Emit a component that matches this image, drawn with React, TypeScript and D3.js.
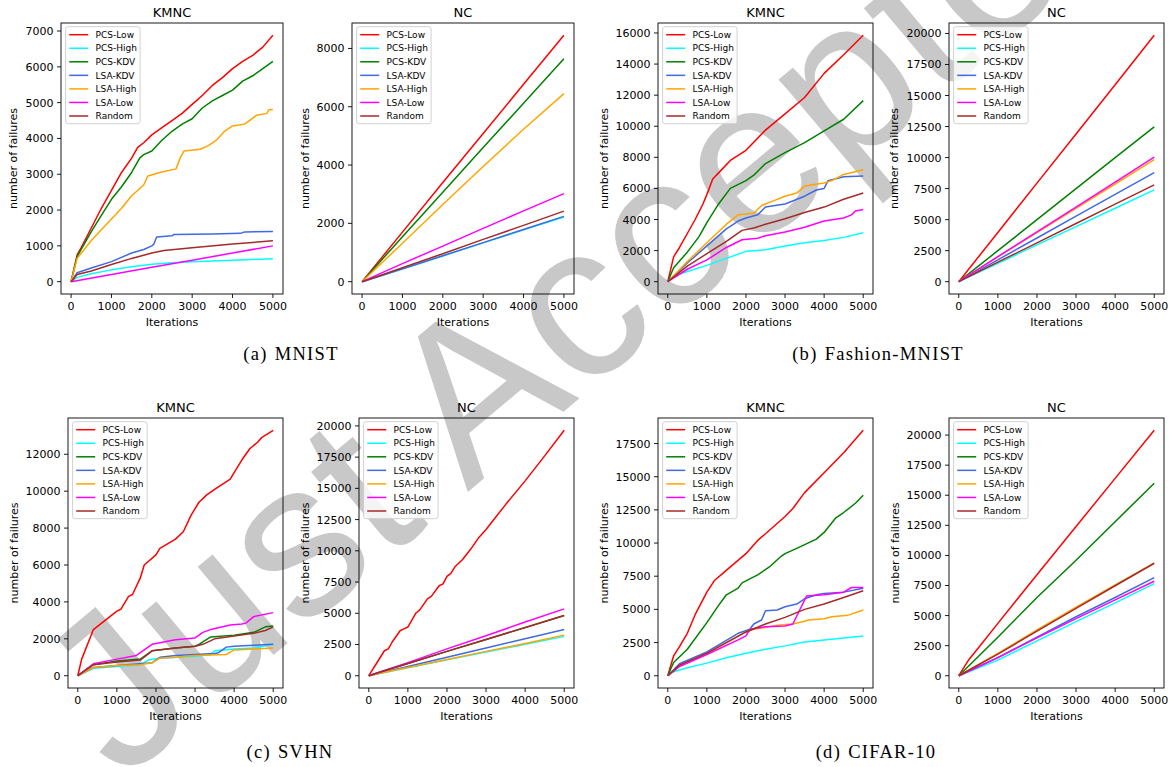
import React from 'react';
import * as d3 from 'd3';

type Pt = [number, number];

const seriesNames = ['PCS-Low', 'PCS-High', 'PCS-KDV', 'LSA-KDV', 'LSA-High', 'LSA-Low', 'Random'];
const seriesColors = ['#ff0000', '#00ffff', '#008000', '#4169e1', '#ffa500', '#ff00ff', '#a52a2a'];
const xTicks = [0, 1000, 2000, 3000, 4000, 5000];

// (a) MNIST, KMNC — order follows seriesNames
const mnistKmnc: Pt[][] = [
  [[0, 0], [150, 750], [250, 950], [500, 1500], [750, 2050], [1000, 2550], [1250, 3050], [1500, 3450], [1650, 3750], [1800, 3880], [2000, 4100], [2250, 4300], [2500, 4500], [2750, 4700], [3000, 4950], [3250, 5200], [3500, 5480], [3750, 5700], [4000, 5950], [4250, 6150], [4500, 6320], [4750, 6550], [5000, 6880]],
  [[0, 0], [150, 120], [500, 220], [1000, 330], [1500, 420], [2000, 490], [2500, 530], [3000, 560], [3500, 580], [4000, 600], [4500, 620], [5000, 640]],
  [[0, 0], [150, 700], [250, 900], [500, 1400], [750, 1850], [1000, 2300], [1250, 2650], [1500, 3050], [1700, 3450], [1800, 3550], [2000, 3650], [2250, 3950], [2500, 4200], [2750, 4400], [3000, 4550], [3250, 4850], [3500, 5050], [3750, 5200], [4000, 5350], [4250, 5600], [4500, 5750], [4750, 5950], [5000, 6150]],
  [[0, 0], [150, 250], [500, 380], [1000, 560], [1500, 800], [1800, 900], [2000, 1000], [2050, 1050], [2120, 1250], [2500, 1280], [2550, 1320], [3500, 1330], [4200, 1350], [4300, 1390], [5000, 1400]],
  [[0, 0], [150, 650], [500, 1150], [1000, 1750], [1250, 2050], [1500, 2400], [1800, 2700], [1900, 2950], [2200, 3050], [2600, 3150], [2700, 3450], [2800, 3650], [3200, 3700], [3400, 3800], [3600, 3950], [3800, 4200], [4000, 4350], [4300, 4400], [4600, 4650], [4850, 4700], [4900, 4800], [5000, 4810]],
  [[0, 0], [1000, 200], [2000, 400], [3000, 600], [4000, 800], [5000, 1000]],
  [[0, 0], [150, 200], [500, 300], [1000, 480], [1500, 650], [2000, 800], [2300, 870], [3000, 950], [4000, 1050], [5000, 1140]],
];

// (a) MNIST, NC
const mnistNc: Pt[][] = [
  [[0, 0], [1000, 1700], [2000, 3400], [3000, 5080], [4000, 6770], [5000, 8450]],
  [[0, 0], [1000, 430], [2000, 880], [3000, 1330], [4000, 1780], [5000, 2220]],
  [[0, 0], [1000, 1540], [2000, 3070], [3000, 4600], [4000, 6120], [5000, 7650]],
  [[0, 0], [1000, 440], [2000, 890], [3000, 1340], [4000, 1790], [5000, 2240]],
  [[0, 0], [1000, 1320], [2000, 2650], [3000, 3950], [4000, 5230], [5000, 6450]],
  [[0, 0], [1000, 620], [2000, 1220], [3000, 1830], [4000, 2430], [5000, 3020]],
  [[0, 0], [1000, 480], [2000, 960], [3000, 1450], [4000, 1930], [5000, 2420]],
];

// (b) Fashion-MNIST, KMNC
const fashionKmnc: Pt[][] = [
  [[0, 0], [150, 1600], [300, 2200], [500, 3100], [700, 4000], [900, 5000], [1000, 5600], [1150, 6600], [1300, 7000], [1600, 7800], [2000, 8450], [2500, 9750], [3000, 10800], [3500, 11850], [4000, 13400], [4500, 14600], [5000, 15850]],
  [[0, 0], [150, 350], [500, 650], [1000, 1050], [1500, 1500], [2000, 1950], [2500, 2050], [3000, 2300], [3500, 2500], [4000, 2650], [4500, 2850], [5000, 3150]],
  [[0, 0], [150, 900], [500, 1900], [800, 2900], [1000, 3800], [1300, 5000], [1600, 6000], [2000, 6500], [2200, 6850], [2500, 7600], [3000, 8300], [3500, 8950], [4000, 9700], [4500, 10450], [5000, 11650]],
  [[0, 0], [500, 1200], [1000, 2300], [1500, 3400], [1800, 3900], [2000, 4100], [2300, 4300], [2500, 4800], [3000, 5000], [3500, 5500], [3800, 5900], [4000, 6000], [4100, 6500], [4500, 6750], [5000, 6800]],
  [[0, 0], [500, 1300], [1000, 2500], [1500, 3700], [1800, 4300], [2200, 4400], [2400, 4900], [2700, 5200], [3000, 5500], [3300, 5700], [3500, 6150], [4000, 6350], [4200, 6500], [4500, 6900], [5000, 7200]],
  [[0, 0], [500, 800], [1000, 1400], [1500, 2200], [1900, 2700], [2300, 2800], [2500, 2950], [3000, 3200], [3500, 3500], [4000, 3900], [4500, 4100], [4700, 4300], [4800, 4550], [5000, 4650]],
  [[0, 0], [500, 1000], [1000, 1800], [1500, 2600], [1900, 3300], [2200, 3450], [2500, 3700], [3000, 4050], [3500, 4450], [4000, 4800], [4500, 5300], [5000, 5700]],
];

// (b) Fashion-MNIST, NC
const fashionNc: Pt[][] = [
  [[0, 0], [1000, 3970], [2000, 7940], [3000, 11900], [4000, 15870], [5000, 19850]],
  [[0, 0], [1000, 1480], [2000, 2960], [3000, 4440], [4000, 5920], [5000, 7400]],
  [[0, 0], [1000, 2500], [2000, 5000], [3000, 7500], [4000, 10000], [5000, 12480]],
  [[0, 0], [1000, 1760], [2000, 3520], [3000, 5280], [4000, 7040], [5000, 8780]],
  [[0, 0], [1000, 2000], [2000, 3950], [3000, 5900], [4000, 7870], [5000, 9830]],
  [[0, 0], [1000, 2020], [2000, 4010], [3000, 6010], [4000, 8020], [5000, 10030]],
  [[0, 0], [1000, 1570], [2000, 3130], [3000, 4690], [4000, 6250], [5000, 7800]],
];

// (c) SVHN, KMNC
const svhnKmnc: Pt[][] = [
  [[0, 0], [100, 900], [400, 2500], [700, 3000], [1000, 3500], [1100, 3600], [1300, 4300], [1400, 4400], [1600, 5300], [1700, 6000], [2000, 6550], [2100, 6900], [2500, 7400], [2700, 7800], [2900, 8700], [3100, 9400], [3300, 9800], [3500, 10100], [3900, 10650], [4000, 11000], [4200, 11700], [4400, 12300], [4600, 12650], [4700, 12900], [5000, 13300]],
  [[0, 0], [400, 400], [1000, 500], [1600, 600], [1800, 850], [2100, 950], [3000, 1050], [3400, 1150], [3500, 1350], [4000, 1450], [4500, 1500], [5000, 1700]],
  [[0, 0], [400, 600], [1000, 800], [1600, 900], [1900, 1350], [2500, 1500], [3000, 1600], [3100, 1700], [3400, 2100], [4000, 2200], [4500, 2350], [4800, 2650], [5000, 2700]],
  [[0, 0], [400, 450], [1000, 550], [1600, 650], [1900, 700], [2100, 1000], [2500, 1100], [3000, 1150], [3500, 1200], [3600, 1250], [3800, 1550], [4000, 1600], [4500, 1650], [5000, 1700]],
  [[0, 0], [400, 450], [1000, 550], [1600, 600], [1900, 700], [2100, 950], [2500, 1000], [3000, 1100], [3800, 1150], [4000, 1400], [4500, 1450], [5000, 1500]],
  [[0, 0], [400, 650], [1000, 900], [1500, 1100], [1700, 1400], [1900, 1700], [2500, 1950], [3000, 2050], [3200, 2350], [3400, 2500], [3900, 2750], [4200, 2800], [4300, 2850], [4500, 3200], [5000, 3420]],
  [[0, 0], [400, 600], [1000, 750], [1600, 850], [1900, 1350], [2500, 1500], [3000, 1600], [3200, 1700], [3500, 2000], [4000, 2150], [4500, 2300], [4800, 2450], [5000, 2650]],
];

// (c) SVHN, NC
const svhnNc: Pt[][] = [
  [[0, 0], [200, 1000], [400, 2000], [500, 2150], [600, 2700], [800, 3600], [900, 3750], [1000, 3900], [1200, 5000], [1300, 5250], [1500, 6150], [1600, 6350], [1800, 7200], [1900, 7350], [2000, 7950], [2100, 8200], [2200, 8700], [2400, 9300], [2600, 10100], [2800, 11000], [3000, 11700], [3200, 12500], [3500, 13700], [4000, 15600], [4500, 17600], [5000, 19650]],
  [[0, 0], [500, 320], [1000, 640], [2000, 1270], [3000, 1900], [4000, 2520], [5000, 3150]],
  [[0, 0], [500, 500], [1000, 980], [2000, 1950], [3000, 2900], [4000, 3850], [5000, 4820]],
  [[0, 0], [500, 380], [1000, 740], [2000, 1480], [3000, 2220], [4000, 2960], [5000, 3700]],
  [[0, 0], [500, 330], [1000, 660], [2000, 1300], [3000, 1950], [4000, 2580], [5000, 3250]],
  [[0, 0], [500, 520], [1000, 1050], [2000, 2150], [3000, 3200], [4000, 4300], [5000, 5350]],
  [[0, 0], [500, 500], [1000, 980], [2000, 1950], [3000, 2900], [4000, 3860], [5000, 4820]],
];

// (d) CIFAR-10, KMNC
const cifarKmnc: Pt[][] = [
  [[0, 0], [150, 1500], [300, 2200], [500, 3200], [700, 4600], [1000, 6300], [1200, 7200], [1400, 7700], [1600, 8200], [2000, 9200], [2300, 10200], [2500, 10700], [3000, 12000], [3200, 12600], [3500, 13800], [4000, 15300], [4500, 16800], [5000, 18500]],
  [[0, 0], [150, 300], [500, 600], [1000, 950], [1500, 1350], [2000, 1700], [2500, 2000], [3000, 2250], [3500, 2550], [4000, 2700], [4500, 2850], [5000, 3000]],
  [[0, 0], [150, 1000], [500, 2000], [1000, 4000], [1300, 5300], [1500, 6100], [1800, 6600], [1900, 7000], [2300, 7600], [2600, 8200], [2900, 9000], [3000, 9200], [3300, 9600], [3800, 10300], [4000, 10800], [4300, 11900], [4500, 12300], [4800, 13000], [5000, 13600]],
  [[0, 0], [300, 900], [1000, 1800], [1800, 3200], [2100, 3500], [2200, 3900], [2400, 4200], [2500, 4900], [2800, 4950], [3000, 5200], [3300, 5400], [3500, 5800], [3800, 6100], [4000, 6200], [4500, 6300], [5000, 6600]],
  [[0, 0], [300, 700], [1000, 1650], [2000, 3300], [2200, 3500], [2800, 3800], [3200, 3900], [3500, 4100], [3600, 4200], [4000, 4300], [4200, 4450], [4600, 4550], [5000, 4950]],
  [[0, 0], [300, 700], [1000, 1600], [1800, 2700], [2000, 3000], [2100, 3500], [2500, 3700], [3000, 3750], [3200, 3900], [3300, 4500], [3550, 6000], [4000, 6100], [4500, 6300], [4700, 6650], [5000, 6650]],
  [[0, 0], [300, 800], [1000, 1700], [2000, 3300], [2500, 3900], [3000, 4400], [3500, 5000], [4000, 5400], [4500, 5900], [5000, 6400]],
];

// (d) CIFAR-10, NC
const cifarNc: Pt[][] = [
  [[0, 0], [250, 1300], [500, 2300], [1000, 4350], [2000, 8400], [3000, 12400], [4000, 16400], [5000, 20400]],
  [[0, 0], [1000, 1300], [2000, 2900], [3000, 4500], [4000, 6050], [5000, 7650]],
  [[0, 0], [1000, 3200], [2000, 6500], [3000, 9600], [4000, 12800], [5000, 16000]],
  [[0, 0], [1000, 1500], [2000, 3200], [3000, 4900], [4000, 6500], [5000, 8150]],
  [[0, 0], [1000, 1850], [2000, 3800], [3000, 5700], [4000, 7550], [5000, 9350]],
  [[0, 0], [1000, 1500], [2000, 3150], [3000, 4750], [4000, 6300], [5000, 7850]],
  [[0, 0], [1000, 1800], [2000, 3700], [3000, 5600], [4000, 7480], [5000, 9350]],
];

const ticks1k = [0, 1000, 2000, 3000, 4000, 5000, 6000, 7000];
const ticks2k8 = [0, 2000, 4000, 6000, 8000];
const ticks2k16 = [0, 2000, 4000, 6000, 8000, 10000, 12000, 14000, 16000];
const ticks2k12 = [0, 2000, 4000, 6000, 8000, 10000, 12000];
const ticks2500 = [0, 2500, 5000, 7500, 10000, 12500, 15000, 17500, 20000];
const ticks2500b = [0, 2500, 5000, 7500, 10000, 12500, 15000, 17500];

const captions = [
  { tag: '(a)', name: 'MNIST', x: 291, y: 360 },
  { tag: '(b)', name: 'Fashion-MNIST', x: 878, y: 360 },
  { tag: '(c)', name: 'SVHN', x: 290, y: 758 },
  { tag: '(d)', name: 'CIFAR-10', x: 876, y: 758 },
];

const panels = [
  { title: 'KMNC', data: mnistKmnc, yTicks: ticks1k, l: 61, r: 283, t: 23, b: 294, ylx: 13 },
  { title: 'NC', data: mnistNc, yTicks: ticks2k8, l: 352, r: 574, t: 23, b: 294, ylx: 305 },
  { title: 'KMNC', data: fashionKmnc, yTicks: ticks2k16, l: 658, r: 873, t: 23, b: 294, ylx: 604 },
  { title: 'NC', data: fashionNc, yTicks: ticks2500, l: 949, r: 1164, t: 23, b: 294, ylx: 894 },
  { title: 'KMNC', data: svhnKmnc, yTicks: ticks2k12, l: 68, r: 283, t: 418, b: 688, ylx: 14 },
  { title: 'NC', data: svhnNc, yTicks: ticks2500, l: 359, r: 574, t: 418, b: 688, ylx: 305 },
  { title: 'KMNC', data: cifarKmnc, yTicks: ticks2500b, l: 658, r: 873, t: 418, b: 688, ylx: 604 },
  { title: 'NC', data: cifarNc, yTicks: ticks2500, l: 949, r: 1164, t: 418, b: 688, ylx: 895 },
];

const sans = 'DejaVu Sans, sans-serif';

function Panel({ p }: { p: typeof panels[number] }) {
  const x = d3.scaleLinear().domain([-250, 5250]).range([p.l, p.r]);
  const maxY = d3.max(p.data.flat(), d => d[1]) as number;
  const y = d3.scaleLinear().domain([-maxY * 0.05, maxY * 1.05]).range([p.b, p.t]);
  const line = d3.line<Pt>().x(d => x(d[0])).y(d => y(d[1]));
  const lx = p.l + 4.6;
  const ly = p.t + 3.7;

  return (
    <g>
      {p.data.map((s, i) => (
        <path key={i} d={line(s) || ''} fill="none" stroke={seriesColors[i]} strokeWidth={1.5} strokeLinejoin="round" />
      ))}
      <rect x={p.l} y={p.t} width={p.r - p.l} height={p.b - p.t} fill="none" stroke="#000" strokeWidth={0.9} />
      {xTicks.map(v => (
        <g key={v}>
          <line x1={x(v)} x2={x(v)} y1={p.b} y2={p.b + 4} stroke="#000" strokeWidth={0.9} />
          <text x={x(v)} y={p.b + 16} textAnchor="middle" fontSize={11} fontFamily={sans}>{v}</text>
        </g>
      ))}
      {p.yTicks.map(v => (
        <g key={v}>
          <line x1={p.l - 4} x2={p.l} y1={y(v)} y2={y(v)} stroke="#000" strokeWidth={0.9} />
          <text x={p.l - 7.5} y={y(v) + 4} textAnchor="end" fontSize={11} fontFamily={sans}>{v}</text>
        </g>
      ))}
      <text x={(p.l + p.r) / 2} y={p.b + 32} textAnchor="middle" fontSize={11} fontFamily={sans}>Iterations</text>
      <text transform={`translate(${p.ylx},${(p.t + p.b) / 2}) rotate(-90)`} y={4} textAnchor="middle" fontSize={11} fontFamily={sans}>number of failures</text>
      <text x={(p.l + p.r) / 2} y={p.t - 6} textAnchor="middle" fontSize={13} fontFamily={sans}>{p.title}</text>
      <rect x={lx} y={ly} width={74.5} height={97} rx={2.5} fill="#fff" fillOpacity={0.8} stroke="#cccccc" strokeWidth={0.9} />
      {seriesNames.map((n, i) => (
        <g key={n}>
          <line x1={lx + 3.6} x2={lx + 22.6} y1={ly + 8 + i * 13.55} y2={ly + 8 + i * 13.55} stroke={seriesColors[i]} strokeWidth={1.5} />
          <text x={lx + 30} y={ly + 11.2 + i * 13.55} fontSize={9} fontFamily={sans}>{n}</text>
        </g>
      ))}
    </g>
  );
}

export default function App() {
  return (
    <svg width={1172} height={767} style={{ position: 'absolute', left: 0, top: 0, background: '#fff' }}>
      <text x={121} y={783} transform="rotate(-40, 121, 783)" fontSize={220} fontFamily="Liberation Sans, sans-serif" fill="#c8c8c8">Just Accepted</text>
      {panels.map((p, i) => <Panel key={i} p={p} />)}
      {captions.map(c => (
        <text key={c.tag} x={c.x} y={c.y} textAnchor="middle" fontSize={18.5} letterSpacing={1.3} fontFamily="Liberation Serif, serif">
          {c.tag}<tspan dx={7}>{c.name}</tspan>
        </text>
      ))}
    </svg>
  );
}
